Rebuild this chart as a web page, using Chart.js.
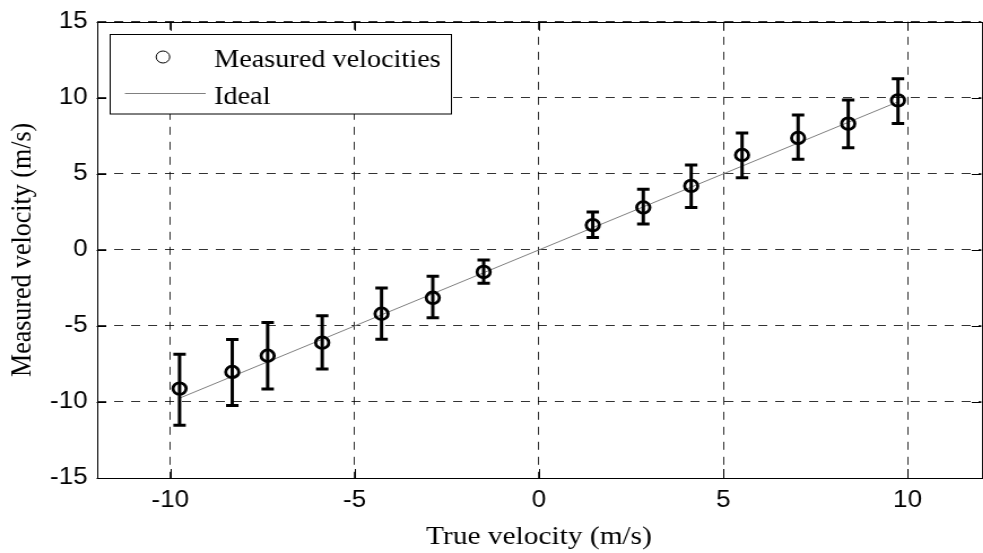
<!DOCTYPE html>
<html>
<head>
<meta charset="utf-8">
<script src="https://cdn.jsdelivr.net/npm/chart.js@4"></script>
<style>
  html, body { margin: 0; padding: 0; overflow: hidden; background: #fff; }
  #canvas { display: block; transform: scaleX(1.13); transform-origin: 0 0; }
</style>
</head>
<body>
<canvas id="canvas" width="877" height="553"></canvas>
<script>
const xTicks = [-10, -5, 0, 5, 10];
const yTicks = [-15, -10, -5, 0, 5, 10, 15];

const trueVel = [-9.75, -8.32, -7.36, -5.88, -4.27, -2.88, -1.50, 1.46, 2.83, 4.13, 5.51, 7.03, 8.39, 9.74];
const measuredVel = [-9.12, -8.03, -6.96, -6.10, -4.20, -3.15, -1.45, 1.63, 2.79, 4.21, 6.24, 7.36, 8.30, 9.83];
const errUpper = [-6.87, -5.89, -4.77, -4.33, -2.50, -1.73, -0.66, 2.50, 3.99, 5.59, 7.69, 8.87, 9.85, 11.25];
const errLower = [-11.53, -10.24, -9.15, -7.84, -5.87, -4.47, -2.20, 0.82, 1.70, 2.79, 4.75, 5.96, 6.72, 8.32];

const idealX = [-9.75, 9.75];
const idealY = [-9.75, 9.75];

const tickFont = { family: "'Liberation Sans', Arial, sans-serif", size: 23 };
const serif = "'Liberation Serif', 'Times New Roman', serif";

// error bars, box, inward ticks and the legend box
const matlabLook = {
  id: "matlabLook",
  afterDatasetsDraw(chart) {
    const { ctx, scales: { x, y } } = chart;
    ctx.save();
    ctx.strokeStyle = "#000";
    ctx.lineWidth = 3;
    trueVel.forEach(function (v, i) {
      const px = x.getPixelForValue(v);
      const top = y.getPixelForValue(errUpper[i]);
      const bot = y.getPixelForValue(errLower[i]);
      ctx.beginPath();
      ctx.moveTo(px, top); ctx.lineTo(px, bot);
      ctx.moveTo(px - 5.5, top); ctx.lineTo(px + 5.5, top);
      ctx.moveTo(px - 5.5, bot); ctx.lineTo(px + 5.5, bot);
      ctx.stroke();
    });
    ctx.restore();
  },
  afterDraw(chart) {
    const { ctx, chartArea: a, scales: { x, y } } = chart;
    ctx.save();
    ctx.strokeStyle = "#000";
    ctx.lineWidth = 1;
    ctx.strokeRect(Math.round(a.left) + 0.5, Math.round(a.top) + 0.5,
      Math.round(a.right - a.left), Math.round(a.bottom - a.top));
    ctx.beginPath();
    xTicks.forEach(function (v) {
      const px = Math.round(x.getPixelForValue(v)) + 0.5;
      ctx.moveTo(px, a.bottom); ctx.lineTo(px, a.bottom - 9);
      ctx.moveTo(px, a.top); ctx.lineTo(px, a.top + 9);
    });
    yTicks.forEach(function (v) {
      const py = Math.round(y.getPixelForValue(v)) + 0.5;
      ctx.moveTo(a.left, py); ctx.lineTo(a.left + 8.5, py);
      ctx.moveTo(a.right, py); ctx.lineTo(a.right - 8.5, py);
    });
    ctx.stroke();

    // legend
    const ds = chart.data.datasets;
    ctx.fillStyle = "#fff";
    ctx.fillRect(97.5, 34.5, 302, 79.5);
    ctx.strokeRect(97.5, 34.5, 302, 79.5);
    ctx.beginPath();
    ctx.arc(144.2, 57, 6, 0, Math.PI * 2);
    ctx.stroke();
    ctx.strokeStyle = ds[1].borderColor;
    ctx.beginPath();
    ctx.moveTo(110.5, 93.5); ctx.lineTo(182, 93.5);
    ctx.stroke();
    ctx.fillStyle = "#000";
    ctx.font = "25px " + serif;
    ctx.textBaseline = "alphabetic";
    ctx.fillText(ds[0].label, 189.4, 67);
    ctx.fillText(ds[1].label, 189.4, 104);
    ctx.restore();
  }
};

const ctx = document.getElementById("canvas").getContext("2d");
const myChart = new Chart(ctx, {
  data: {
    datasets: [
      {
        type: "scatter",
        label: "Measured velocities",
        data: trueVel.map(function (v, i) { return { x: v, y: measuredVel[i] }; }),
        pointStyle: "circle",
        pointRadius: 5.8,
        pointBorderWidth: 2.8,
        borderColor: "#000",
        backgroundColor: "transparent",
      },
      {
        type: "line",
        label: "Ideal",
        data: idealX.map(function (v, i) { return { x: v, y: idealY[i] }; }),
        borderColor: "#808080",
        borderWidth: 1,
        pointRadius: 0,
        fill: false,
      },
    ],
  },
  options: {
    responsive: false,
    devicePixelRatio: 1,
    animation: false,
    layout: { padding: { top: 20.5, right: 0, bottom: 0, left: 0 } },
    plugins: { legend: { display: false }, tooltip: { enabled: false } },
    scales: {
      x: {
        type: "linear",
        min: -12,
        max: 12,
        afterBuildTicks: function (s) { s.ticks = xTicks.map(function (v) { return { value: v }; }); },
        afterFit: function (s) { s.height = 75; },
        grid: { color: "rgba(0,0,0,0.8)", lineWidth: 1, drawTicks: false },
        border: { display: false, dash: [8, 7] },
        ticks: { color: "#000", font: tickFont, padding: 9, maxRotation: 0, callback: function (v) { return String(v); } },
        title: { display: true, text: "True velocity (m/s)", color: "#000", font: { family: serif, size: 26 }, padding: { top: 0, bottom: 0 } },
      },
      y: {
        type: "linear",
        min: -15,
        max: 15,
        afterBuildTicks: function (s) { s.ticks = yTicks.map(function (v) { return { value: v }; }); },
        afterFit: function (s) { s.width = 85.5; },
        grid: { color: "rgba(0,0,0,0.8)", lineWidth: 1, drawTicks: false },
        border: { display: false, dash: [8, 7] },
        ticks: { color: "#000", font: tickFont, padding: 8, callback: function (v) { return String(v); } },
        title: { display: true, text: "Measured velocity (m/s)", color: "#000", font: { family: serif, size: 26 }, padding: { top: 5, bottom: 0 } },
      },
    },
  },
  plugins: [matlabLook],
});
</script>
</body>
</html>
